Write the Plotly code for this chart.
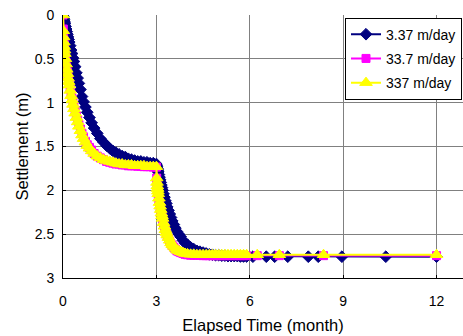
import plotly.graph_objects as go

# Elapsed time (month) of the computed steps: dense during each loading stage
t_stage1 = [0, 0.01, 0.02, 0.03, 0.04, 0.05, 0.06, 0.08, 0.10, 0.12, 0.14, 0.16, 0.18, 0.20,
            0.23, 0.26, 0.29, 0.32, 0.35, 0.39, 0.43, 0.47, 0.51, 0.56, 0.61, 0.66, 0.72,
            0.78, 0.85, 0.92, 1.0, 1.1, 1.2, 1.3, 1.4, 1.5, 1.6, 1.7, 1.8, 1.9, 2.0, 2.1,
            2.2, 2.3, 2.4, 2.5, 2.6, 2.7, 2.8, 2.9, 3.0]
t_stage2 = [3.01, 3.02, 3.03, 3.04, 3.05, 3.06, 3.08, 3.10, 3.12, 3.14, 3.16, 3.18, 3.20,
            3.23, 3.26, 3.29, 3.32, 3.35, 3.39, 3.43, 3.47, 3.51, 3.56, 3.61, 3.66, 3.72,
            3.78, 3.85, 3.92, 4.0, 4.1, 4.2, 4.3, 4.4, 4.5, 4.6, 4.7, 4.8, 4.9, 5.0, 5.1,
            5.2, 5.3, 5.4, 5.5, 5.6, 5.7, 5.8, 5.9]
t_tail_a = [6.1, 6.53, 6.8, 7.22, 7.88, 8.2, 8.96, 10.37, 12.0]
t_tail_b = [6.24, 6.95, 8.37, 12.0]

# Settlement (m) for k = 3.37 m/day
s_a_stage1 = [0, 0.02, 0.04, 0.05, 0.07, 0.08, 0.10, 0.13, 0.16, 0.19, 0.22, 0.25, 0.28, 0.31,
              0.35, 0.40, 0.44, 0.49, 0.53, 0.59, 0.66, 0.72, 0.78, 0.85, 0.93, 0.99, 1.05,
              1.11, 1.17, 1.23, 1.29, 1.35, 1.41, 1.45, 1.49, 1.52, 1.55, 1.57, 1.59, 1.61,
              1.62, 1.64, 1.65, 1.66, 1.67, 1.67, 1.68, 1.68, 1.69, 1.69, 1.70]
s_a_stage2 = [1.72, 1.73, 1.75, 1.76, 1.78, 1.79, 1.82, 1.85, 1.88, 1.91, 1.94, 1.97, 2.00,
              2.04, 2.08, 2.12, 2.15, 2.19, 2.23, 2.27, 2.31, 2.35, 2.39, 2.43, 2.47, 2.50,
              2.53, 2.57, 2.60, 2.62, 2.65, 2.67, 2.69, 2.70, 2.71, 2.72, 2.73, 2.735, 2.74,
              2.74, 2.745, 2.745, 2.75, 2.75, 2.75, 2.75, 2.755, 2.755, 2.755]
s_a_tail = [2.757, 2.757, 2.757, 2.757, 2.757, 2.757, 2.757, 2.757, 2.757]

# Settlement (m) for k = 33.7 m/day
s_b_stage1 = [0, 0.16, 0.23, 0.29, 0.34, 0.38, 0.42, 0.48, 0.54, 0.60, 0.65, 0.70, 0.74, 0.78,
              0.84, 0.90, 0.95, 1.00, 1.05, 1.10, 1.15, 1.20, 1.25, 1.30, 1.35, 1.39, 1.44,
              1.48, 1.51, 1.54, 1.58, 1.61, 1.63, 1.65, 1.67, 1.68, 1.69, 1.70, 1.70, 1.71,
              1.71, 1.72, 1.72, 1.72, 1.725, 1.725, 1.73, 1.73, 1.73, 1.735, 1.735]
s_b_stage2 = [1.86, 1.91, 1.95, 1.99, 2.02, 2.05, 2.10, 2.15, 2.19, 2.23, 2.27, 2.30, 2.33,
              2.38, 2.42, 2.46, 2.49, 2.52, 2.55, 2.58, 2.61, 2.63, 2.65, 2.67, 2.69, 2.70,
              2.71, 2.72, 2.73, 2.735, 2.74, 2.74, 2.74, 2.74, 2.745, 2.745, 2.745, 2.745,
              2.745, 2.745, 2.745, 2.745, 2.745, 2.745, 2.745, 2.745, 2.745, 2.745, 2.745]
s_b_tail = [2.745, 2.745, 2.745, 2.745]

# Settlement (m) for k = 337 m/day
s_c_stage1 = [0, 0.18, 0.25, 0.31, 0.36, 0.40, 0.44, 0.50, 0.56, 0.62, 0.67, 0.72, 0.76, 0.80,
              0.86, 0.92, 0.97, 1.02, 1.07, 1.12, 1.17, 1.22, 1.27, 1.32, 1.37, 1.41, 1.45,
              1.49, 1.52, 1.55, 1.58, 1.61, 1.63, 1.65, 1.66, 1.67, 1.68, 1.69, 1.70, 1.70,
              1.71, 1.71, 1.71, 1.72, 1.72, 1.72, 1.72, 1.73, 1.73, 1.73, 1.73]
s_c_stage2 = [1.86, 1.91, 1.95, 1.98, 2.01, 2.04, 2.09, 2.14, 2.18, 2.22, 2.26, 2.29, 2.32,
              2.37, 2.41, 2.45, 2.48, 2.51, 2.54, 2.57, 2.60, 2.62, 2.64, 2.66, 2.68, 2.69,
              2.70, 2.71, 2.72, 2.725, 2.73, 2.73, 2.735, 2.735, 2.735, 2.735, 2.735, 2.735,
              2.735, 2.735, 2.735, 2.735, 2.735, 2.735, 2.735, 2.735, 2.735, 2.735, 2.735]
s_c_tail = [2.735, 2.735, 2.735, 2.735]

series_names = ["3.37 m/day", "33.7 m/day", "337 m/day"]
series_colors = ["#000080", "#FF00FF", "#FFFF00"]
series_symbols = ["diamond", "square", "triangle-up"]
series_sizes = [9, 8, 11]

x_ticks = [0, 3, 6, 9, 12]
y_ticks = [0, 0.5, 1, 1.5, 2, 2.5, 3]

series_t = [t_stage1 + t_stage2 + t_tail_a,
            t_stage1 + t_stage2 + t_tail_b,
            t_stage1 + t_stage2 + t_tail_b]
series_s = [s_a_stage1 + s_a_stage2 + s_a_tail,
            s_b_stage1 + s_b_stage2 + s_b_tail,
            s_c_stage1 + s_c_stage2 + s_c_tail]

font_family = "Liberation Sans, Arial, sans-serif"

fig = go.Figure()
for i in range(3):
    fig.add_trace(go.Scatter(
        x=series_t[i], y=series_s[i], name=series_names[i], mode="lines+markers",
        legendgroup=f"g{i}",
        line=dict(color=series_colors[i], width=2),
        marker=dict(symbol=series_symbols[i], size=series_sizes[i], color=series_colors[i],
                    line=dict(color=series_colors[i], width=1)),
    ))

axis_common = dict(
    showgrid=True, gridcolor="#808080", gridwidth=1,
    showline=True, linecolor="black", linewidth=1,
    ticks="inside", ticklen=3, tickcolor="black",
    zeroline=False,
    tickfont=dict(family=font_family, size=14, color="black"),
)

fig.update_layout(
    width=463, height=336,
    margin=dict(l=63, r=0, t=15, b=58),
    paper_bgcolor="white", plot_bgcolor="white",
    font=dict(family=font_family, color="black"),
    xaxis=dict(range=[0, 12.85], tickvals=x_ticks, ticktext=[str(v) for v in x_ticks],
               ticklabelstandoff=10,
               title=dict(text="Elapsed Time (month)", font=dict(size=16.5), standoff=11),
               **axis_common),
    yaxis=dict(range=[3, 0], tickvals=y_ticks, ticktext=[f"{v:g}" for v in y_ticks],
               ticklabelstandoff=5,
               title=dict(text="Settlement (m)", font=dict(size=16.5), standoff=1),
               **axis_common),
    legend=dict(x=0.9975, xanchor="right", y=0.99, yanchor="top",
                bgcolor="white", bordercolor="black", borderwidth=1,
                font=dict(family=font_family, size=14, color="black"),
                itemwidth=30, tracegroupgap=3, traceorder="grouped"),
    showlegend=True,
)

fig.write_html("out.html")
